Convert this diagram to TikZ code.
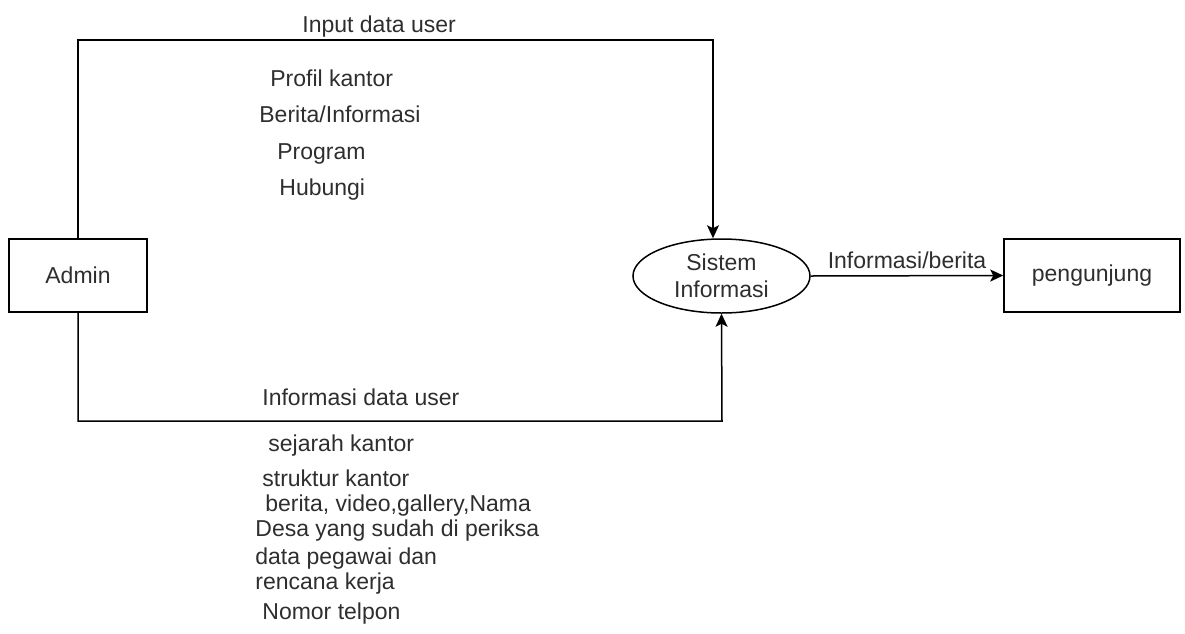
\documentclass[tikz,border=0pt]{standalone}
\usepackage{fontspec}
\setmainfont{Liberation Sans}
\usepackage{tikz}
\usetikzlibrary{arrows.meta,shapes.geometric}
\definecolor{inkgray}{rgb}{0.18,0.18,0.18}

\begin{document}
\begin{tikzpicture}[
    x=0.5pt, y=-0.5pt,
    entity/.style={draw, rectangle, line width=0.75pt, minimum height=36.5pt, align=center, font=\fontsize{11.5}{13.5}\selectfont, text=inkgray},
    process/.style={draw, ellipse, line width=0.75pt, inner sep=0pt, minimum width=88.5pt, minimum height=37pt, align=center, font=\fontsize{11.5}{13.5}\selectfont, text=inkgray},
    flow/.style={-{Stealth[length=6.5pt, width=6pt, inset=1.5pt]}, line width=0.75pt},
    item/.style={anchor=west, inner sep=0pt, text height=8.5pt, text depth=2.5pt, font=\fontsize{11.5}{13.5}\selectfont, text=inkgray}
]
\useasboundingbox (0,0) rectangle (1185,633);

% External entities
\node[entity, minimum width=69pt] (admin) at (78,275.5) {Admin};
\node[entity, minimum width=88pt] (pengunjung) at (1092,275.5) {pengunjung};

% Process
\node[process] (sistem) at (721.5,276) {Sistem\\Informasi};

% Bends
\coordinate (topbend) at (713,40);
\coordinate (bottombend) at (722,421);

% Flows
\draw[flow] (admin.north) |- (topbend) -- (topbend |- sistem.north);
\draw[flow] (admin.south) |- (bottombend) -- (sistem.south);
\draw[flow] (sistem.east) -- (pengunjung.west) node[midway, above, inner sep=3pt, font=\fontsize{11.5}{13.5}\selectfont, text=inkgray] {Informasi/berita};

% Input data
\node[item] (input) at (302,26) {Input data user};
\node[item] (profil) at (270,80) {Profil kantor};
\node[item] (berita) at (259,116) {Berita/Informasi};
\node[item] (program) at (277,153) {Program};
\node[item] (hubungi) at (279,189) {Hubungi};

% Informasi data
\node[item] (infouser) at (262,399) {Informasi data user};
\node[item] (sejarah) at (268,445) {sejarah kantor};
\node[item] (struktur) at (262,480) {struktur kantor};
\node[item] (galeri) at (265,505) {berita, video,gallery,Nama};
\node[item] (desa) at (255,530) {Desa yang sudah di periksa};
\node[item] (pegawai) at (255,558) {data pegawai dan};
\node[item] (rencana) at (255,583) {rencana kerja};
\node[item] (telpon) at (262,613) {Nomor telpon};

\end{tikzpicture}
\end{document}
